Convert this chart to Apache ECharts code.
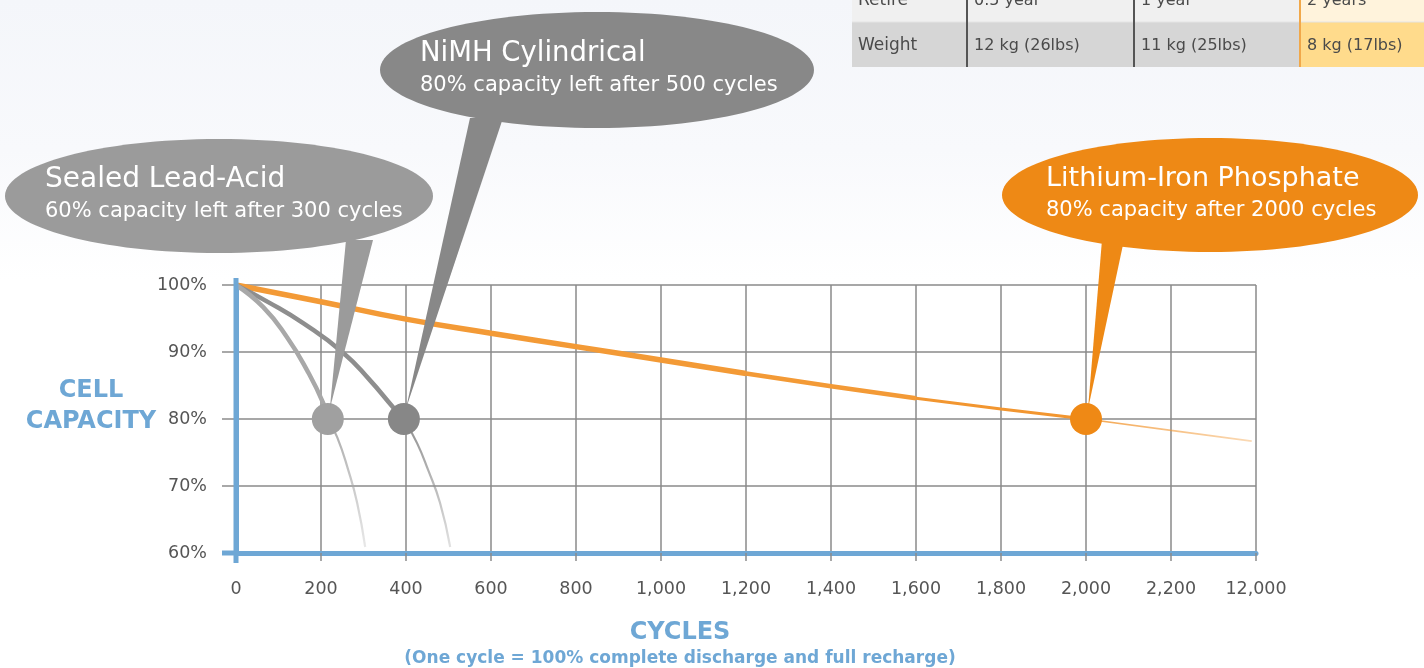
<!DOCTYPE html>
<html>
<head>
<meta charset="utf-8">
<script src="https://cdn.jsdelivr.net/npm/echarts@6/dist/echarts.min.js"></script>
<style>
html,body{margin:0;padding:0;width:1424px;height:668px;overflow:hidden;
background:linear-gradient(to bottom,#f4f6fa 0px,#f8f9fc 150px,#ffffff 280px);}
#c{width:1424px;height:668px;}
</style>
</head>
<body>
<div id="c"></div>
<script>
// ---- data ----
var xTickLabels = ['0','200','400','600','800','1,000','1,200','1,400','1,600','1,800','2,000','2,200','12,000'];
var yTickLabels = ['60%','70%','80%','90%','100%'];

// Sealed Lead-Acid curve [cycles, capacity %]
var leadAcid = [[0,100],[64,96.7],[120,92.2],[167,87.3],[205,82.4],[216,80],[238,77.3],[264,72.4],[285,67.5],[304,60.9]];
// NiMH Cylindrical curve
var nimh = [[0,100],[80,97.3],[158,94.3],[252,89.9],[315,85.8],[369,81.8],[395,80],[426,76.4],[452,72.4],[480,67.5],[504,60.9]];
// Lithium-Iron Phosphate curve
var lifepo4 = [[0,100],[200,97.5],[400,94.9],[600,92.8],[800,90.8],[1000,88.8],[1200,86.8],[1400,84.9],[1600,83.1],[1800,81.5],[2000,80],[2200,78.3],[2390,76.7]];

// highlighted points
var leadAcidMarker = [216,80];
var nimhMarker = [395,80];
var lifepo4Marker = [2000,80];

// callout texts
var calloutTitles = ['Sealed Lead-Acid','NiMH Cylindrical','Lithium-Iron Phosphate'];
var calloutSubs = ['60% capacity left after 300 cycles','80% capacity left after 500 cycles','80% capacity after 2000 cycles'];

// partial table at top
var tableRowLabels = ['Retire','Weight'];
var tableRetire = ['0.5 year','1 year','2 years'];
var tableWeight = ['12 kg (26lbs)','11 kg (25lbs)','8 kg (17lbs)'];

// ---- helpers ----
function idxOf(arr, pt){ for(var i=0;i<arr.length;i++){ if(arr[i][0]===pt[0]) return i; } return -1; }
function fade(c0, c1, x2, y2){
  return {type:'linear',x:0,y:0,x2:x2,y2:y2,colorStops:[{offset:0,color:c0},{offset:1,color:c1}]};
}
var FONT = '"DejaVu Sans", Verdana, sans-serif';
var laI = idxOf(leadAcid, leadAcidMarker);
var niI = idxOf(nimh, nimhMarker);
var liI = idxOf(lifepo4, lifepo4Marker);

var chart = echarts.init(document.getElementById('c'), null, {renderer:'canvas'});

var series = [
  {type:'line', data: lifepo4.slice(0,7), smooth:true, symbol:'none', z:3,
    lineStyle:{color:'#f39a36', width:5.5}},
  {type:'line', data: lifepo4.slice(6,9), smooth:true, symbol:'none', z:3,
    lineStyle:{color:'#f39a36', width:4.5}},
  {type:'line', data: lifepo4.slice(8,liI+1), smooth:true, symbol:'none', z:3,
    lineStyle:{color:'#f29630', width:3}},
  {type:'line', data: lifepo4.slice(liI), smooth:true, symbol:'none', z:3,
    lineStyle:{color:fade('rgba(242,150,48,0.85)','rgba(242,150,48,0.35)',1,0), width:1.6}},

  {type:'line', data: nimh.slice(0,niI+1), smooth:true, symbol:'none', z:4,
    lineStyle:{color:'#8e8e8e', width:4.5}},
  {type:'line', data: nimh.slice(niI), smooth:true, symbol:'none', z:4,
    lineStyle:{color:fade('rgba(142,142,142,1)','rgba(142,142,142,0.25)',0,1), width:2.2}},

  {type:'line', data: leadAcid.slice(0,laI+1), smooth:true, symbol:'none', z:5,
    lineStyle:{color:'#a8a8a8', width:4.5}},
  {type:'line', data: leadAcid.slice(laI), smooth:true, symbol:'none', z:5,
    lineStyle:{color:fade('rgba(168,168,168,1)','rgba(168,168,168,0.25)',0,1), width:2.2}},

  {type:'scatter', z:20, symbolSize:32, silent:true,
    itemStyle:{opacity:1},
    data:[
      {value:leadAcidMarker, itemStyle:{color:'#a0a0a0', opacity:1}},
      {value:nimhMarker, itemStyle:{color:'#878787', opacity:1}},
      {value:lifepo4Marker, itemStyle:{color:'#ef8915', opacity:1}}
    ]}
];

chart.setOption({
  animation:false,
  backgroundColor:'transparent',
  grid:{left:236, right:168, top:285, bottom:115, containLabel:false},
  xAxis:{type:'value', min:0, max:2400, interval:200,
    axisLine:{show:true, onZero:false, lineStyle:{color:'#6ea7d5', width:5}},
    axisTick:{show:true, length:8, lineStyle:{color:'#8c8c8c', width:1.5}},
    splitLine:{show:true, lineStyle:{color:'#8a8a8a', width:1.5}},
    axisLabel:{margin:27, fontFamily:FONT, fontSize:17.5, color:'#555555',
      formatter:function(v){ return xTickLabels[Math.round(v/200)]; }}
  },
  yAxis:{type:'value', min:60, max:100, interval:10,
    axisLine:{show:true, onZero:false, lineStyle:{color:'#6ea7d5', width:5}},
    axisTick:{show:true, length:14, lineStyle:{color:'#8c8c8c', width:1.5}},
    splitLine:{show:true, lineStyle:{color:'#8a8a8a', width:1.5}},
    axisLabel:{margin:29, fontFamily:FONT, fontSize:17.5, color:'#555555',
      formatter:function(v){ return yTickLabels[Math.round((v-60)/10)]; }}
  },
  series:series
});

function buildGraphics(){
  var g = [];
  // table
  var colX = [852, 967, 1134, 1300, 1430];
  var rowY = [-23, 22, 67];
  var rowBg = ['#f0f0f0','#d6d6d6'];
  var lastBg = ['#fff3dc','#ffdb8c'];
  var rows = [tableRetire, tableWeight];
  for (var r=0;r<2;r++){
    g.push({type:'rect', shape:{x:colX[0], y:rowY[r], width:colX[3]-colX[0], height:rowY[r+1]-rowY[r]}, style:{fill:rowBg[r]}});
    g.push({type:'rect', shape:{x:colX[3], y:rowY[r], width:colX[4]-colX[3], height:rowY[r+1]-rowY[r]}, style:{fill:lastBg[r]}});
    var cy = (rowY[r]+rowY[r+1])/2 + 1;
    g.push({type:'text', x:colX[0]+6, y:cy, style:{text:tableRowLabels[r], fill:'#4a4a4a', font:'17px '+FONT, verticalAlign:'middle'}});
    for (var c=0;c<3;c++){
      g.push({type:'text', x:colX[c+1]+7, y:cy, style:{text:rows[r][c], fill:'#4a4a4a', font:'16px '+FONT, verticalAlign:'middle'}});
    }
  }
  g.push({type:'line', shape:{x1:852,y1:22,x2:1430,y2:22}, style:{stroke:'#e4e4e4', lineWidth:1}});
  g.push({type:'line', shape:{x1:967,y1:0,x2:967,y2:67}, style:{stroke:'#555', lineWidth:2}});
  g.push({type:'line', shape:{x1:1134,y1:0,x2:1134,y2:67}, style:{stroke:'#555', lineWidth:2}});
  g.push({type:'line', shape:{x1:1300,y1:0,x2:1300,y2:67}, style:{stroke:'#f1a84a', lineWidth:2}});

  // axis titles
  g.push({type:'text', x:91, y:391, style:{text:'CELL', fill:'#6ea7d5', font:'bold 24px '+FONT, align:'center', verticalAlign:'middle'}});
  g.push({type:'text', x:91, y:422, style:{text:'CAPACITY', fill:'#6ea7d5', font:'bold 24px '+FONT, align:'center', verticalAlign:'middle'}});
  g.push({type:'text', x:680, y:633, style:{text:'CYCLES', fill:'#6ea7d5', font:'bold 24px '+FONT, align:'center', verticalAlign:'middle'}});
  g.push({type:'text', x:680, y:659, style:{text:'(One cycle = 100% complete discharge and full recharge)', fill:'#6ea7d5', font:'bold 17px '+FONT, align:'center', verticalAlign:'middle'}});

  // axis extensions
  var o = chart.convertToPixel({gridIndex:0}, [0,60]);
  var t = chart.convertToPixel({gridIndex:0}, [0,100]);
  g.push({type:'line', z:50, shape:{x1:o[0],y1:t[1]-7,x2:o[0],y2:o[1]+10}, style:{stroke:'#6ea7d5', lineWidth:5}});
  g.push({type:'line', z:50, shape:{x1:o[0]-14,y1:o[1],x2:o[0],y2:o[1]}, style:{stroke:'#6ea7d5', lineWidth:5}});

  // callouts
  var callouts = [
    {cx:219, cy:196, rx:214, ry:57, color:'#9b9b9b', tail:[[346,240],[373,240]], marker:leadAcidMarker, tx:45, ts:28},
    {cx:597, cy:70,  rx:217, ry:58, color:'#888888', tail:[[470,118],[503,118]], marker:nimhMarker, tx:420, ts:27.5},
    {cx:1210, cy:195, rx:208, ry:57, color:'#ee8915', tail:[[1102,240],[1124,240]], marker:lifepo4Marker, tx:1046, ts:27}
  ];
  callouts.forEach(function(c, i){
    var p = chart.convertToPixel({gridIndex:0}, c.marker);
    g.push({type:'ellipse', z:100, shape:{cx:c.cx, cy:c.cy, rx:c.rx, ry:c.ry}, style:{fill:c.color}});
    g.push({type:'polygon', z:100, shape:{points:[c.tail[0], c.tail[1], [p[0]+2, p[1]-10]]}, style:{fill:c.color}});
    g.push({type:'text', z:101, x:c.tx, y:c.cy-16, style:{text:calloutTitles[i], fill:'#ffffff', font:c.ts+'px '+FONT, verticalAlign:'middle'}});
    g.push({type:'text', z:101, x:c.tx, y:c.cy+16, style:{text:calloutSubs[i], fill:'#ffffff', font:'21px '+FONT, verticalAlign:'middle'}});
  });
  return g;
}
chart.setOption({graphic:{elements:buildGraphics()}});
</script>
</body>
</html>
